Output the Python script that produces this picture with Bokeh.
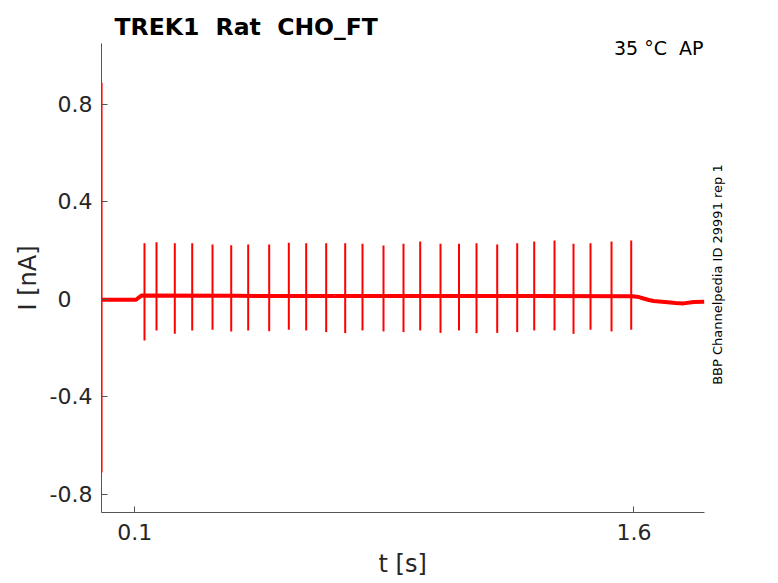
from bokeh.plotting import figure
from bokeh.models import FixedTicker, Label, Range1d, ColumnDataSource, Title
from bokeh.embed import file_html
from bokeh.resources import INLINE

# ---- data ----
title_text = "TREK1 \u00a0Rat \u00a0CHO_FT"
temp_text = "35 °C \u00a0AP"
id_text = "BBP Channelpedia ID 29991 rep 1"
x_label = "t [s]"
y_label = "I [nA]"

x_ticks = [0.1, 1.6]
x_tick_labels = ["0.1", "1.6"]
y_ticks = [-0.8, -0.4, 0, 0.4, 0.8]
y_tick_labels = ["-0.8", "-0.4", "0\u00a0\u00a0\u00a0", "0.4", "0.8"]
x_limits = (0.0, 1.812)
y_limits = (-0.874, 1.0503)

# baseline of the current trace (s, nA)
base_t = [0.0, 0.104, 0.112, 0.120, 0.40, 0.70, 1.00, 1.30, 1.596, 1.615,
          1.629, 1.645, 1.659, 1.701, 1.725, 1.749, 1.78, 1.811]
base_v = [-0.001, -0.001, 0.008, 0.016, 0.015, 0.014, 0.014, 0.014, 0.013, 0.010,
          0.004, -0.002, -0.006, -0.011, -0.014, -0.016, -0.010, -0.009]

# stimulus-evoked spikes: time, peak, trough
spike_t = [0.1292, 0.1653, 0.2203, 0.2726, 0.3336, 0.3898, 0.4408, 0.5039, 0.5629,
           0.6151, 0.6752, 0.7323, 0.7843, 0.8474, 0.9075, 0.9577, 1.0187, 1.0743,
           1.1269, 1.1891, 1.2492, 1.3003, 1.3613, 1.4184, 1.4695, 1.5326, 1.5918]
spike_peak = [0.231, 0.235, 0.231, 0.231, 0.226, 0.223, 0.226, 0.226, 0.233,
              0.231, 0.231, 0.231, 0.229, 0.222, 0.229, 0.238, 0.229, 0.229,
              0.231, 0.226, 0.231, 0.238, 0.242, 0.229, 0.231, 0.238, 0.242]
spike_trough = [-0.168, -0.127, -0.141, -0.127, -0.124, -0.131, -0.127, -0.130, -0.124,
                -0.127, -0.134, -0.138, -0.127, -0.131, -0.134, -0.127, -0.137, -0.127,
                -0.138, -0.137, -0.134, -0.127, -0.127, -0.141, -0.124, -0.131, -0.124]

# onset capacitive transient
trans_t = [0.0005]
trans_top = [0.89]
trans_bottom = [-0.71]

FONT = "DejaVu Sans"
TXT = "#262626"
AX = "#555555"
RED = "#ff0000"

W, H = 778, 583
LEFT, BOTTOM = 101, 71          # plot box: x 101..704, y 43..512
BOX_W, BOX_H = 603, 469
sx = BOX_W / (x_limits[1] - x_limits[0])
sy = BOX_H / (y_limits[1] - y_limits[0])
# frame extends to the right and top edge so the side texts are not clipped
x_range = Range1d(x_limits[0], x_limits[0] + (W - LEFT) / sx)
y_range = Range1d(y_limits[0], y_limits[0] + (H - BOTTOM) / sy)

p = figure(width=W, height=H, output_backend="svg", toolbar_location=None,
           x_range=x_range, y_range=y_range,
           min_border_left=LEFT, min_border_right=0, min_border_top=0,
           min_border_bottom=BOTTOM)
p.outline_line_color = None
p.grid.visible = False
p.background_fill_color = "white"
p.border_fill_color = "white"

p.line(base_t, base_v, line_color=RED, line_width=4)
spk = ColumnDataSource(dict(t=spike_t, top=spike_peak, bot=spike_trough))
p.segment(x0="t", y0="bot", x1="t", y1="top", source=spk, line_color=RED, line_width=2)
p.segment(x0=trans_t, y0=trans_bottom, x1=trans_t, y1=trans_top, line_color=RED, line_width=1.8)

for ax in (p.xaxis[0], p.yaxis[0]):
    ax.axis_line_color = AX
    ax.major_tick_line_color = AX
    ax.major_tick_in = 6
    ax.major_tick_out = 0
    ax.minor_tick_line_color = None
    ax.major_label_text_font = FONT
    ax.major_label_text_font_size = "22px"
    ax.major_label_text_color = TXT

p.xaxis.bounds = x_limits
p.xaxis.ticker = FixedTicker(ticks=x_ticks)
p.xaxis.major_label_overrides = {v: s for v, s in zip(x_ticks, x_tick_labels)}
p.xaxis.major_label_standoff = 11

p.yaxis.bounds = y_limits
p.yaxis.ticker = FixedTicker(ticks=y_ticks)
p.yaxis.major_label_overrides = {v: s for v, s in zip(y_ticks, y_tick_labels)}
p.yaxis.major_label_standoff = 9

# axis titles, positioned on the plot box (not on the extended frame)
p.add_layout(Title(text=x_label, align="left", offset=277,
                   standoff=11, text_font=FONT, text_font_size="24px",
                   text_font_style="normal", text_color=TXT), "below")
p.add_layout(Title(text=y_label, align="left", offset=202,
                   standoff=10, text_font=FONT, text_font_size="24px",
                   text_font_style="normal", text_color=TXT), "left")

p.add_layout(Label(x=0.0391, y=1.117, text=title_text, text_font=FONT,
                   text_font_size="23.5px", text_font_style="bold", text_color="black",
                   text_align="left", text_baseline="alphabetic"))
p.add_layout(Label(x=1.809, y=1.0325, text=temp_text, text_font=FONT,
                   text_font_size="19px", text_color="black",
                   text_align="right", text_baseline="alphabetic"))
p.add_layout(Label(x=1.8496, y=0.1024, text=id_text, text_font=FONT,
                   text_font_size="13px", text_color="black", angle=1.5707963,
                   text_align="center", text_baseline="middle"))

open("out.html", "w").write(file_html(p, INLINE))
